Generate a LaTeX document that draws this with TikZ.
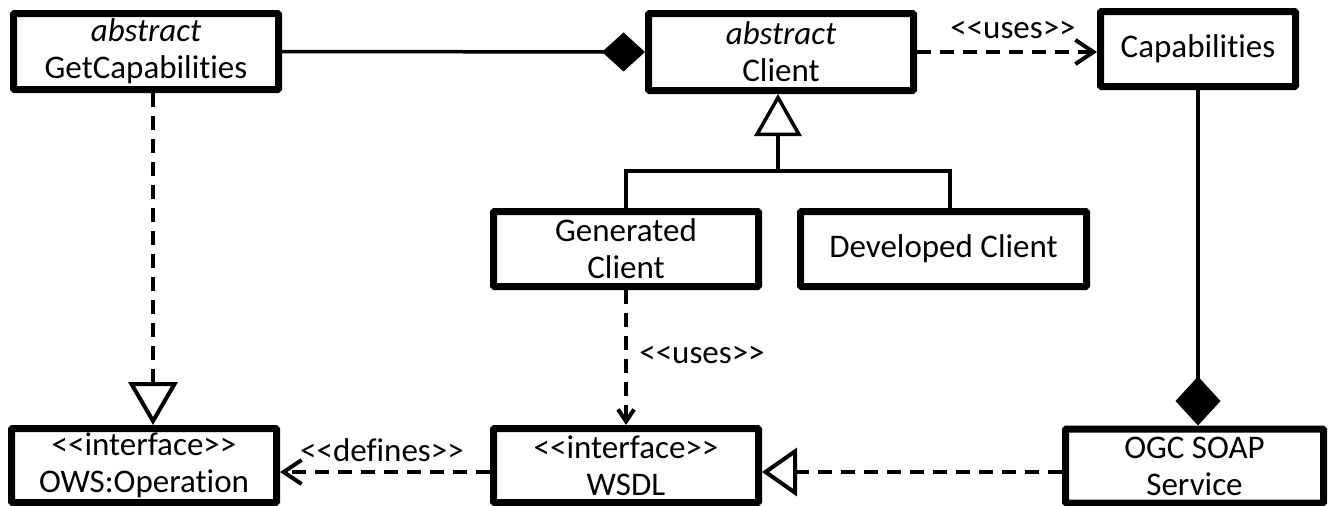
\documentclass[tikz,border=0pt]{standalone}
\usepackage{fontspec}
\setmainfont{Carlito}[Ligatures=NoCommon]
\usetikzlibrary{arrows.meta, positioning}
\newcommand\stereo[1]{<\kern0pt<#1>\kern0pt>}

\begin{document}
\begin{tikzpicture}[x=1pt, y=-1pt,
        umlbox/.style={draw, line width=7pt, fill=white, rounded corners=1pt, inner sep=0pt,
            align=center, font=\fontsize{33}{37}\selectfont},
        umllabel/.style={inner sep=0pt, font=\fontsize{33}{37}\selectfont},
        solidline/.style={line width=3.5pt},
        dashline/.style={line width=4pt, dash pattern=on 14pt off 9pt}]
        \useasboundingbox (0, 0) rectangle (1328, 506);

        \node [umlbox, minimum width=265pt, minimum height=76pt] (NGC) at (146, 51.5) {\textit{abstract}\\GetCapabilities};
        \node [umlbox, minimum width=265pt, minimum height=77pt] (NCL) at (781, 52) {\textit{abstract}\\Client};
        \node [umlbox, minimum width=195pt, minimum height=75pt] (NCA) at (1198, 49) {Capabilities};
        \node [umlbox, minimum width=265pt, minimum height=75pt] (NGE) at (626, 249) {Generated\\Client};
        \node [umlbox, minimum width=286pt, minimum height=75pt] (NDE) at (943.5, 249) {Developed Client};
        \node [umlbox, minimum width=265pt, minimum height=74pt] (NOW) at (144, 465.5) {\stereo{interface}\\OWS:Operation};
        \node [umlbox, minimum width=265pt, minimum height=74pt] (NWS) at (626, 465.5) {\stereo{interface}\\WSDL};
        \node [umlbox, minimum width=258pt, minimum height=74pt] (NSO) at (1194.5, 466) {OGC SOAP\\Service};

        \node [umllabel] (LU1) at (1013, 30) {\stereo{uses}};
        \node [umllabel] (LU2) at (702, 355) {\stereo{uses}};
        \node [umllabel] (LDF) at (382, 450) {\stereo{defines}};

        \coordinate (JG) at (626, 171);
        \coordinate (JC) at (778, 171);
        \coordinate (JD) at (950, 171);

        \draw [solidline, -{Diamond[length=43pt, width=39pt]}] (NGC.east) -- (NCL.west);
        \draw [dashline, -{Straight Barb[length=18pt, width=24pt]}] (NCL.east) -- (NCL.east -| NCA.west);
        \draw [solidline] (NGE.north) -- (JG) -- (JD) -- (JD |- NDE.north);
        \draw [solidline, -{Triangle[open, length=42pt, width=47pt]}] (JC) -- (JC |- NCL.south);
        \draw [dashline, -{Straight Barb[length=12pt, width=16pt]}] (NGE.south) -- (NWS.north);
        \draw [dashline, -{Triangle[open, length=43pt, width=49pt]}] ([xshift=7pt]NGC.south) -- ([xshift=9pt]NOW.north);
        \draw [dashline, -{Triangle[open, length=35pt, width=48pt]}] ([yshift=-6pt]NSO.west) -- ([yshift=-6.5pt]NWS.east);
        \draw [dashline, -{Straight Barb[length=18pt, width=24pt]}] ([yshift=-6.5pt]NWS.west) -- ([yshift=-6.5pt]NOW.east);
        \draw [solidline, -{Diamond[length=49pt, width=45pt]}] (NCA.south) -- (NCA.south |- NSO.north);
    \end{tikzpicture}
\end{document}
